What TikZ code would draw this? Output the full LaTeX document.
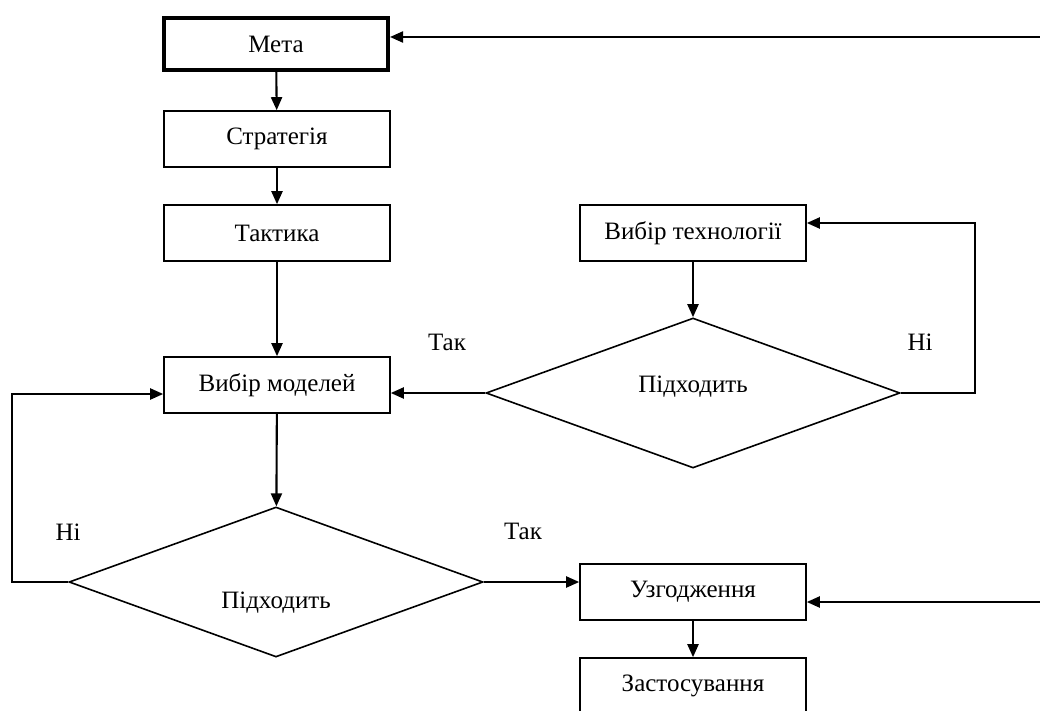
\documentclass[tikz,border=0pt]{standalone}
\usepackage{fontspec}
\setmainfont{Liberation Serif}
\usetikzlibrary{shapes.geometric,arrows.meta}
\begin{document}
\begin{tikzpicture}[x=1pt,y=-1pt,line width=1.6pt,>={Triangle[length=13pt,width=11pt]},font=\fontsize{25}{29}\selectfont]
        \tikzstyle{block}=[rectangle,draw=black,minimum width=226pt,minimum height=56pt,inner sep=0pt]
        \tikzstyle{check}=[diamond,draw=black,minimum width=414pt,minimum height=150pt,inner sep=0pt]
        \tikzstyle{link}=[draw,->,line width=2.1pt]
        \useasboundingbox (0,0) rectangle (1040,711);
        % left column
        \node [block,line width=4pt,minimum width=224pt,minimum height=52pt] (meta) at (276,44) {Мета};
        \node [block] (strat) at (277,139) {Стратегія};
        \node [block] (takt) at (277,233) {Тактика};
        \node [block] (vybmod) at (277,385) {Вибір моделей};
        \node [check,label={[yshift=-21pt]center:Підходить}] (pidh2) at (276,582) {};
        % right column
        \node [block] (vybtech) at (693,233) {Вибір технології};
        \node [check,label={[yshift=6pt]center:Підходить}] (pidh1) at (693,393) {};
        \node [block] (uzgod) at (693,592) {Узгодження};
        \node [block] (zastos) at (693,686) {Застосування};
        % answers
        \node (tak1) at (447,342) {Так};
        \node (ni1) at (920,342) {Ні};
        \node (ni2) at (68,532) {Ні};
        \node (tak2) at (523,531) {Так};
        % loose ends
        \coordinate (inA) at (1040,37);
        \coordinate (inB) at (1040,602);
        \coordinate (lp) at (12,0);
        \coordinate (rp) at (975,0);
        \path[link] (meta) -- (strat);
        \path[link] (strat) -- (takt);
        \path[link] (takt) -- (vybmod);
        \path[link] (vybmod) -- (pidh2);
        \path[link] (vybtech) -- (pidh1);
        \path[link] (uzgod) -- (zastos);
        \path[link] (pidh1.west) -- (pidh1.west -| vybmod.east);
        \path[link] (pidh2.east) -- (pidh2.east -| uzgod.west);
        \path[link] (pidh2.west) -- (pidh2.west -| lp) |- ([yshift=-9pt]vybmod.west);
        \path[link] (pidh1.east) -- (pidh1.east -| rp) |- ([yshift=10pt]vybtech.east);
        \path[link] (inA) -- (inA -| meta.east);
        \path[link] (inB) -- (inB -| uzgod.east);
\end{tikzpicture}
\end{document}
